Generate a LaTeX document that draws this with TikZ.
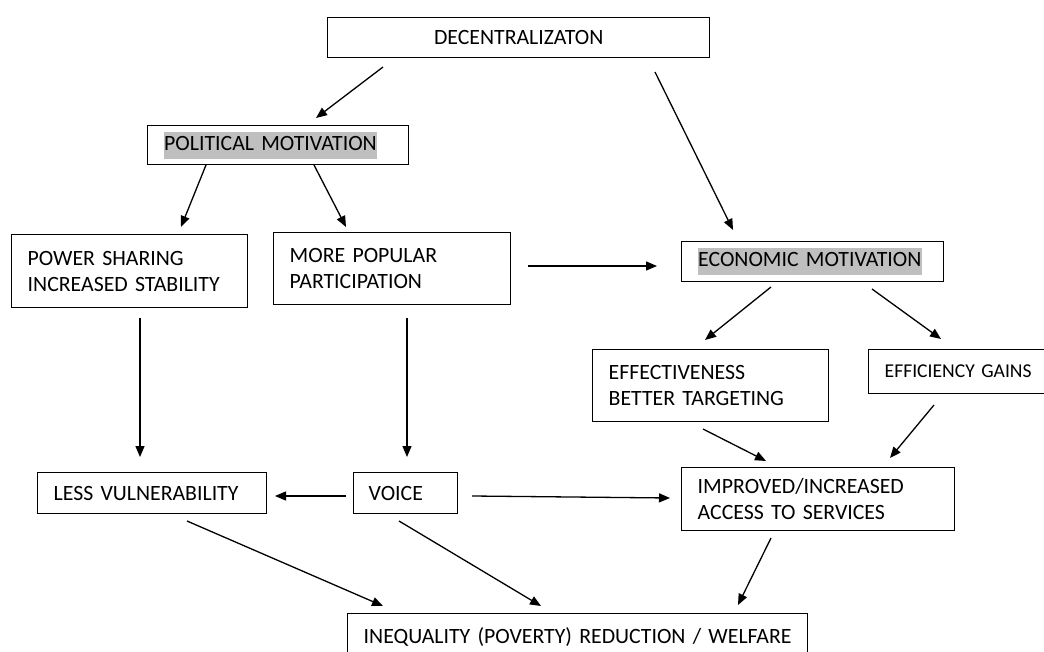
\documentclass[tikz,border=0pt]{standalone}
\usepackage{fontspec}
\setmainfont{Carlito}
\usetikzlibrary{arrows.meta}
\definecolor{hlgray}{RGB}{191,191,191}
\newcommand{\hlt}[1]{{\setlength{\fboxsep}{0.5pt}\colorbox{hlgray}{\strut #1}}}
\tikzset{
  box/.style={draw, line width=1.4pt, anchor=north west, align=left, inner ysep=0pt,
    font=\fontsize{21.8}{26}\selectfont},
  arr/.style={line width=1.3pt, -{Triangle[length=11pt,width=9pt]}},
}
\begin{document}
\begin{tikzpicture}[x=1pt,y=-1pt]
\clip (0,0) rectangle (1044,652);
\fill[white] (0,0) rectangle (1044,652);
% boxes
\node[box, align=center, minimum width=382pt, minimum height=40pt, text width=350pt, inner xsep=16pt] (dec) at (327,17) {DECENTRALIZATON};
\node[box, minimum width=261pt, minimum height=39pt, text width=229pt, inner xsep=16pt] (pol) at (147,125) {\hlt{POLITICAL MOTIVATION}};
\node[box, minimum width=236pt, minimum height=73pt, text width=204pt, inner xsep=16pt] (pow) at (11,234) {POWER SHARING\\INCREASED STABILITY};
\node[box, minimum width=237pt, minimum height=72pt, text width=205pt, inner xsep=16pt] (pop) at (273,232) {MORE POPULAR\\PARTICIPATION};
\node[box, minimum width=262pt, minimum height=40pt, text width=230pt, inner xsep=16pt] (eco) at (681,241) {\hlt{ECONOMIC MOTIVATION}};
\node[box, minimum width=236pt, minimum height=72pt, text width=204pt, inner xsep=16pt] (eff) at (592,349) {EFFECTIVENESS\\BETTER TARGETING};
\node[box, minimum width=200pt, minimum height=44pt, text width=168pt, inner xsep=16pt, font=\fontsize{19.6}{24}\selectfont] (gain) at (868,349) {EFFICIENCY GAINS};
\node[box, minimum width=229pt, minimum height=41pt, text width=197pt, inner xsep=16pt] (vul) at (37,472) {LESS VULNERABILITY};
\node[box, minimum width=104pt, minimum height=41pt, text width=74pt, inner xsep=15pt] (voice) at (353,472) {VOICE};
\node[box, minimum width=273pt, minimum height=63pt, text width=241pt, inner xsep=16pt] (acc) at (681,467) {IMPROVED/INCREASED\\ACCESS TO SERVICES};
\node[box, minimum width=460pt, minimum height=47pt, text width=428pt, inner xsep=16pt] (ineq) at (347,613) {INEQUALITY (POVERTY) REDUCTION / WELFARE};
% connector end points
\coordinate (a1s) at (383,67);  \coordinate (a1e) at (316,118);
\coordinate (a2s) at (655,72);  \coordinate (a2e) at (733,230);
\coordinate (a3s) at (206,165); \coordinate (a3e) at (181,227);
\coordinate (a4s) at (314,165); \coordinate (a4e) at (346,227);
\coordinate (a5s) at (528,266); \coordinate (a5e) at (657,266);
\coordinate (a6s) at (771,287); \coordinate (a6e) at (705,340);
\coordinate (a7s) at (872,289); \coordinate (a7e) at (941,339);
\coordinate (a8s) at (140,318); \coordinate (a8e) at (140,457);
\coordinate (a9s) at (407,318); \coordinate (a9e) at (407,457);
\coordinate (a10s) at (703,429); \coordinate (a10e) at (766,461);
\coordinate (a11s) at (934,405); \coordinate (a11e) at (890,458);
\coordinate (a12s) at (346,496); \coordinate (a12e) at (275,496);
\coordinate (a13s) at (472,496); \coordinate (a13e) at (670,498);
\coordinate (a14s) at (187,521); \coordinate (a14e) at (383,606);
\coordinate (a15s) at (399,521); \coordinate (a15e) at (541,606);
\coordinate (a16s) at (771,538); \coordinate (a16e) at (738,605);
% connectors
\draw[arr] (a1s) -- (a1e);
\draw[arr] (a2s) -- (a2e);
\draw[arr] (a3s) -- (a3e);
\draw[arr] (a4s) -- (a4e);
\draw[arr] (a5s) -- (a5e);
\draw[arr] (a6s) -- (a6e);
\draw[arr] (a7s) -- (a7e);
\draw[arr] (a8s) -- (a8e);
\draw[arr] (a9s) -- (a9e);
\draw[arr] (a10s) -- (a10e);
\draw[arr] (a11s) -- (a11e);
\draw[arr] (a12s) -- (a12e);
\draw[arr] (a13s) -- (a13e);
\draw[arr] (a14s) -- (a14e);
\draw[arr] (a15s) -- (a15e);
\draw[arr] (a16s) -- (a16e);
\end{tikzpicture}
\end{document}
